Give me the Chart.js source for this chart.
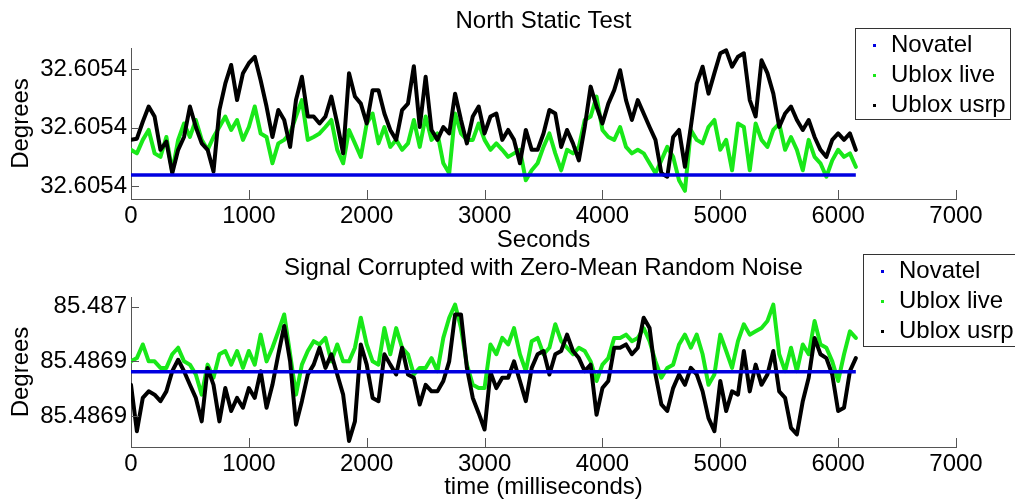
<!DOCTYPE html>
<html>
<head>
<meta charset="utf-8">
<title>North Static Test</title>
<script src="https://cdn.jsdelivr.net/npm/chart.js@4.4.1/dist/chart.umd.min.js"></script>
<style>
  body { margin: 0; background: #fff; }
  #wrap { position: relative; width: 1015px; height: 502px; }
  canvas { position: absolute; left: 0; top: 0; }
</style>
</head>
<body>
<div id="wrap">
  <canvas id="top" width="1015" height="502"></canvas>
  <canvas id="bottom" width="1015" height="502"></canvas>
</div>
<script>
// sample times (s), read every 50 s off the plot
const sampleTimes = [
  0, 50, 100, 150, 200, 250, 300, 350, 400, 450, 500, 550, 600, 650, 700, 750, 800, 850, 900, 950,
  1000, 1050, 1100, 1150, 1200, 1250, 1300, 1350, 1400, 1450, 1500, 1550, 1600, 1650, 1700, 1750, 1800, 1850, 1900, 1950,
  2000, 2050, 2100, 2150, 2200, 2250, 2300, 2350, 2400, 2450, 2500, 2550, 2600, 2650, 2700, 2750, 2800, 2850, 2900, 2950,
  3000, 3050, 3100, 3150, 3200, 3250, 3300, 3350, 3400, 3450, 3500, 3550, 3600, 3650, 3700, 3750, 3800, 3850, 3900, 3950,
  4000, 4050, 4100, 4150, 4200, 4250, 4300, 4350, 4400, 4450, 4500, 4550, 4600, 4650, 4700, 4750, 4800, 4850, 4900, 4950,
  5000, 5050, 5100, 5150, 5200, 5250, 5300, 5350, 5400, 5450, 5500, 5550, 5600, 5650, 5700, 5750, 5800, 5850, 5900, 5950,
  6000, 6050, 6100, 6150
];
const novatelTimes = [0, 6150];

const seriesNames = ['Novatel', 'Ublox live', 'Ublox usrp'];

// north test: offsets from the lowest y tick (one tick step = 10)
const northNovatel = [1.9, 1.9];
const northLive = [
  6.2, 5.6, 7.9, 9.6, 5.6, 5.0, 8.4, 2.5, 7.9, 10.7, 8.4, 11.3, 7.9, 6.2, 8.4, 10.1, 11.9, 9.6, 11.3, 7.9,
  10.1, 13.6, 9.0, 8.4, 3.9, 7.3, 7.9, 9.0, 11.9, 14.7, 7.9, 8.4, 9.0, 10.1, 11.3, 6.2, 3.9, 9.6, 7.3, 5.0,
  10.7, 12.4, 7.3, 10.1, 6.7, 7.9, 6.2, 7.3, 11.3, 6.7, 11.9, 7.9, 9.0, 3.9, 2.2, 12.4, 9.0, 7.9, 7.9, 10.7,
  7.9, 6.2, 7.3, 6.2, 5.0, 5.6, 6.2, 1.0, 2.7, 3.9, 6.7, 9.0, 5.6, 2.7, 6.2, 5.6, 6.7, 11.3, 11.9, 15.3,
  9.6, 8.4, 7.9, 10.1, 6.7, 5.6, 6.2, 5.6, 3.9, 2.2, 4.4, 6.7, 5.0, 1.0, -0.8, 9.6, 7.9, 7.3, 10.1, 11.3,
  6.2, 7.9, 2.7, 10.7, 10.1, 2.7, 10.7, 7.9, 6.7, 9.6, 10.7, 6.2, 8.4, 6.2, 2.7, 7.9, 5.0, 3.9, 1.6, 4.4,
  6.2, 5.0, 5.6, 3.3
];
const northUsrp = [
  7.9, 8.1, 11.0, 13.6, 11.9, 6.2, 7.6, 2.2, 6.2, 8.4, 13.6, 10.1, 7.3, 6.2, 2.5, 13.0, 17.5, 20.7, 14.7, 19.3,
  21.0, 22.1, 18.1, 13.6, 8.4, 13.0, 11.3, 6.7, 14.7, 18.7, 11.9, 11.9, 10.7, 11.9, 15.3, 10.7, 5.6, 19.3, 15.3, 14.1,
  10.7, 16.4, 16.4, 12.4, 9.6, 7.9, 13.0, 14.1, 20.5, 10.1, 18.7, 9.6, 7.9, 10.1, 9.0, 15.8, 11.3, 7.3, 11.9, 13.6,
  9.0, 11.9, 12.4, 7.9, 9.6, 7.9, 3.9, 9.6, 6.2, 6.2, 9.0, 13.0, 12.4, 6.7, 9.6, 7.3, 4.4, 10.1, 17.0, 13.6,
  10.7, 14.1, 16.4, 19.8, 14.7, 11.3, 14.7, 12.4, 10.1, 7.9, 2.2, 1.6, 8.4, 9.6, 3.3, 10.1, 17.5, 20.4, 15.8, 19.3,
  22.7, 23.2, 20.4, 22.1, 22.7, 14.7, 11.9, 21.5, 19.3, 15.8, 10.1, 12.4, 13.6, 11.3, 9.6, 11.3, 8.4, 6.2, 5.0, 7.9,
  9.0, 7.9, 9.0, 6.2
];

// noise test: same kind of offsets
const noiseNovatel = [8.1, 8.1];
const noiseLive = [
  10.0, 10.6, 13.1, 10.0, 10.0, 8.8, 8.8, 11.3, 12.5, 10.0, 9.4, 7.6, 3.9, 9.4, 7.0, 11.3, 11.9, 9.4, 11.9, 8.8,
  11.9, 9.4, 14.9, 10.0, 12.5, 15.5, 18.6, 11.3, 3.9, 9.4, 11.9, 13.7, 13.1, 14.3, 10.0, 13.1, 10.0, 10.0, 12.5, 18.0,
  13.1, 10.0, 9.4, 16.1, 11.3, 16.1, 12.5, 11.3, 7.6, 8.8, 8.8, 10.6, 8.2, 14.3, 18.0, 20.4, 16.1, 9.4, 5.7, 5.1,
  5.1, 13.1, 11.3, 14.3, 13.1, 16.1, 11.3, 8.2, 13.7, 14.3, 11.3, 12.5, 16.8, 13.7, 12.5, 11.3, 12.5, 11.9, 10.0, 6.4,
  9.4, 10.6, 14.3, 14.3, 14.9, 13.7, 14.3, 16.1, 13.7, 10.0, 7.0, 8.8, 9.4, 13.1, 14.9, 12.5, 14.9, 11.3, 5.7, 7.6,
  14.9, 11.9, 8.8, 13.7, 16.8, 14.9, 15.5, 16.1, 17.4, 20.4, 11.3, 8.2, 12.5, 8.2, 13.1, 11.3, 17.4, 13.1, 12.5, 10.0,
  6.4, 11.3, 15.5, 14.3
];
const noiseUsrp = [
  5.7, -2.8, 3.3, 4.5, 3.9, 2.7, 4.5, 8.2, 10.3, 8.2, 5.7, 3.3, -1.0, 8.8, 5.7, -1.0, 5.1, 0.9, 3.3, 1.5,
  5.1, 3.3, 8.2, 1.5, 5.7, 11.3, 16.5, 10.0, -1.6, 2.7, 7.6, 9.4, 12.5, 8.8, 11.3, 7.6, 3.9, -4.6, -1.0, 13.1,
  9.4, 3.3, 2.7, 11.3, 9.4, 7.6, 12.5, 7.6, 7.0, 2.1, 5.7, 4.5, 4.5, 6.4, 10.0, 18.6, 18.6, 8.8, 3.3, 0.5,
  -2.5, 8.0, 5.1, 7.0, 7.0, 10.0, 6.4, 2.7, 8.8, 11.3, 11.9, 7.6, 11.3, 11.9, 14.9, 11.9, 10.6, 8.2, 9.4, 0.2,
  5.1, 6.4, 12.5, 12.5, 13.1, 11.3, 12.5, 18.0, 16.1, 7.6, 2.1, 0.9, 5.1, 7.6, 5.7, 8.8, 7.6, 4.5, -0.4, -2.8,
  6.4, 0.9, 4.5, 3.9, 11.9, 4.5, 9.4, 5.7, 7.6, 11.9, 4.5, 3.3, -2.2, -3.4, 2.7, 7.0, 14.3, 11.3, 10.6, 7.6,
  0.9, 1.5, 8.2, 10.6
];

// tick values and the labels the figure printed for them
const xTicks = [0, 1000, 2000, 3000, 4000, 5000, 6000, 7000];
const yTickValues = [0, 10, 20];
const northYLabels = ['32.6054', '32.6054', '32.6054'];
const noiseYLabels = ['85.4869', '85.4869', '85.487'];

const blue = 'rgb(0,0,225)';
const green = 'rgb(25,232,25)';
const black = '#000';
const axisColor = '#555';
const font24 = { family: '"Liberation Sans", Arial, sans-serif', size: 24 };

Chart.defaults.font.family = font24.family;
Chart.defaults.color = '#000';

function points(times, values) {
  return values.map((v, i) => ({ x: times[i], y: v }));
}

// matlab style ticks pointing into the axes
const inwardTicks = {
  id: 'inwardTicks',
  afterDraw(chart) {
    const { ctx, chartArea, scales } = chart;
    ctx.save();
    ctx.strokeStyle = axisColor;
    ctx.lineWidth = 1;
    ctx.beginPath();
    scales.x.ticks.forEach(t => {
      const px = Math.round(scales.x.getPixelForValue(t.value)) + 0.5;
      ctx.moveTo(px, chartArea.bottom);
      ctx.lineTo(px, chartArea.bottom - 9);
    });
    scales.y.ticks.forEach(t => {
      const py = Math.round(scales.y.getPixelForValue(t.value)) + 0.5;
      ctx.moveTo(chartArea.left, py);
      ctx.lineTo(chartArea.left + 8, py);
    });
    ctx.stroke();
    ctx.restore();
  }
};

// boxed legend like the figure
const boxLegend = {
  id: 'boxLegend',
  afterDraw(chart, args, opts) {
    const ctx = chart.ctx;
    ctx.save();
    ctx.fillStyle = '#fff';
    ctx.fillRect(opts.x, opts.y, opts.w, opts.h);
    ctx.strokeStyle = '#333';
    ctx.lineWidth = 1;
    ctx.strokeRect(opts.x + 0.5, opts.y + 0.5, opts.w, opts.h);
    ctx.font = '24px ' + font24.family;
    ctx.textBaseline = 'middle';
    ctx.textAlign = 'left';
    const colors = [blue, green, black];
    seriesNames.forEach((name, i) => {
      const cy = opts.rowY + i * opts.rowGap;
      ctx.fillStyle = colors[i];
      ctx.fillRect(opts.markX - 1, cy - 1, 3, 3);
      ctx.fillStyle = '#000';
      ctx.fillText(name, opts.textX, cy);
    });
    ctx.restore();
  }
};

function makeChart(id, cfg) {
  const lineStyle = { borderJoinStyle: 'round', borderCapStyle: 'round' };
  return new Chart(document.getElementById(id), {
    type: 'line',
    data: {
      datasets: [
        { label: seriesNames[0], data: points(novatelTimes, cfg.novatel), borderColor: blue, borderWidth: 3.5, order: 0 },
        { label: seriesNames[2], data: points(sampleTimes, cfg.usrp), borderColor: black, borderWidth: 4, order: 1, ...lineStyle },
        { label: seriesNames[1], data: points(sampleTimes, cfg.live), borderColor: green, borderWidth: 4, order: 2, ...lineStyle }
      ]
    },
    options: {
      responsive: false,
      animation: false,
      devicePixelRatio: 1,
      elements: { point: { radius: 0 }, line: { tension: 0 } },
      layout: { padding: cfg.padding },
      plugins: {
        legend: { display: false },
        tooltip: { enabled: false },
        title: {
          display: true,
          text: cfg.title,
          fullSize: false,
          color: '#000',
          font: { ...font24, weight: 'normal' },
          padding: cfg.titlePadding
        },
        boxLegend: cfg.legend
      },
      scales: {
        x: {
          type: 'linear',
          min: 0,
          max: 7000,
          afterBuildTicks: s => { s.ticks = xTicks.map(v => ({ value: v })); },
          afterFit: s => { s.height = cfg.xHeight; },
          grid: { display: false, drawTicks: false },
          border: { display: true, color: axisColor, width: 1 },
          ticks: { font: font24, color: '#000', padding: 3, maxRotation: 0, callback: v => String(v) },
          title: { display: true, text: cfg.xTitle, font: font24, color: '#000', padding: 0 }
        },
        y: {
          min: cfg.yMin,
          max: cfg.yMax,
          afterBuildTicks: s => { s.ticks = yTickValues.map(v => ({ value: v })); },
          afterFit: s => { s.width = 131; },
          grid: { display: false, drawTicks: false },
          border: { display: true, color: axisColor, width: 1 },
          ticks: { font: font24, color: '#000', padding: 4, callback: (v, i) => cfg.yLabels[i] },
          title: { display: true, text: 'Degrees', font: font24, color: '#000', padding: { top: 6.6, bottom: 0 } }
        }
      }
    },
    plugins: [inwardTicks, boxLegend]
  });
}

makeChart('top', {
  title: 'North Static Test',
  xTitle: 'Seconds',
  novatel: northNovatel, live: northLive, usrp: northUsrp,
  yLabels: northYLabels,
  yMin: -2.2, yMax: 23.6,
  padding: { left: 0, right: 59, top: 0, bottom: 247.6 },
  titlePadding: { top: 6.9, bottom: 12.3 },
  xHeight: 55.4,
  legend: { x: 855, y: 28, w: 155, h: 91, markX: 874, textX: 891, rowY: 45, rowGap: 30 }
});

makeChart('bottom', {
  title: 'Signal Corrupted with Zero-Mean Random Noise',
  xTitle: 'time (milliseconds)',
  novatel: noiseNovatel, live: noiseLive, usrp: noiseUsrp,
  yLabels: noiseYLabels,
  yMin: -5.7, yMax: 21.8,
  padding: { left: 0, right: 59, top: 250, bottom: 0 },
  titlePadding: { top: 4.1, bottom: 14.1 },
  xHeight: 55,
  legend: { x: 863, y: 254, w: 160, h: 92, markX: 882, textX: 899, rowY: 271, rowGap: 30 }
});
</script>
</body>
</html>
